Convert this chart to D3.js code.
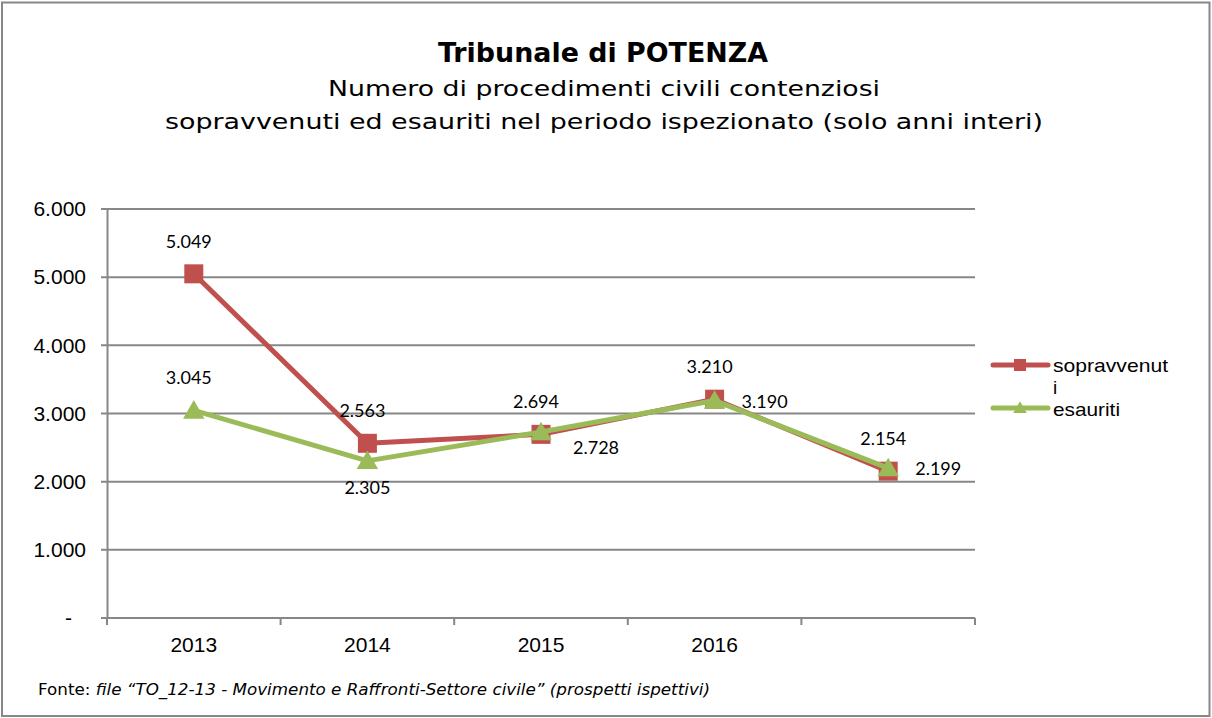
<!DOCTYPE html>
<html>
<head>
<meta charset="utf-8">
<script src="https://cdn.jsdelivr.net/npm/d3@7"></script>
<style>
  html, body { margin: 0; padding: 0; background: #fff; }
  svg { display: block; }
</style>
</head>
<body>
<svg id="chart" width="1212" height="718"></svg>
<script>
// ---- data ----
const categories = ["2013", "2014", "2015", "2016", ""];
const seriesNames = ["sopravvenuti", "esauriti"];
const sopravvenuti = [5049, 2563, 2694, 3210, 2154];
const esauriti = [3045, 2305, 2728, 3190, 2199];
const yTicks = [0, 1000, 2000, 3000, 4000, 5000, 6000];
const yTickLabels = ["-", "1.000", "2.000", "3.000", "4.000", "5.000", "6.000"];
const labelPlaceSop = ["above", "above", "above", "above", "above"];
const labelPlaceEsa = ["above", "below", "belowright", "right", "right"];
const titleText = "Tribunale di POTENZA";
const subtitleLines = ["Numero di procedimenti civili contenziosi",
                       "sopravvenuti ed esauriti nel periodo ispezionato (solo anni interi)"];
const sourceLabel = "Fonte: ";
const sourceText = "file \u201CTO_12-13 - Movimento e Raffronti-Settore civile\u201D (prospetti ispettivi)";

// ---- setup ----
const svg = d3.select("#chart");
const W = 1212, H = 718;
const red = "#C0504D", green = "#9BBB59", gridCol = "#878787";
const plot = { left: 107, right: 975, top: 209, bottom: 618 };

const itFmt = d3.formatLocale({ decimal: ",", thousands: ".", grouping: [3], currency: ["", "€"] }).format(",d");

// outer border
svg.append("rect").attr("x", 2).attr("y", 2.5).attr("width", W - 4.5).attr("height", H - 4.5)
  .attr("fill", "#fff").attr("stroke", gridCol).attr("stroke-width", 2);

// titles
svg.append("text").attr("x", 603).attr("y", 62).attr("text-anchor", "middle")
  .attr("font-family", "DejaVu Sans").attr("font-weight", "bold").attr("font-size", 26)
  .attr("textLength", 330).attr("lengthAdjust", "spacingAndGlyphs")
  .text(titleText);
const subW = [552, 878];
subtitleLines.forEach((t, i) => {
  svg.append("text").attr("x", 604).attr("y", 96 + i * 33).attr("text-anchor", "middle")
    .attr("font-family", "DejaVu Sans").attr("font-size", 22)
    .attr("textLength", subW[i]).attr("lengthAdjust", "spacingAndGlyphs")
    .text(t);
});

// scales
const x = d3.scaleBand().domain(categories.map((c, i) => i)).range([plot.left, plot.right]).padding(0);
const xc = i => x(i) + x.bandwidth() / 2;
const y = d3.scaleLinear().domain([0, 6000]).range([plot.bottom, plot.top]);

// gridlines
svg.append("g").selectAll("line").data(yTicks).join("line")
  .attr("x1", plot.left - 6).attr("x2", plot.right)
  .attr("y1", d => y(d)).attr("y2", d => y(d))
  .attr("stroke", gridCol).attr("stroke-width", 2);

// y axis
const yAxis = d3.axisLeft(y).tickValues(yTicks).tickSize(0).tickPadding(21)
  .tickFormat((d, i) => yTickLabels[i]);
const ya = svg.append("g").attr("transform", `translate(${plot.left},0)`).call(yAxis);
ya.select(".domain").attr("stroke", gridCol).attr("stroke-width", 2);
ya.selectAll("text").attr("font-family", "Liberation Sans").attr("font-size", 21).attr("fill", "#000")
  .attr("dx", (d, i) => yTickLabels[i] === "-" ? -14 : 0);

// x axis
const xa = svg.append("g").attr("transform", `translate(0,${plot.bottom})`);
xa.append("line").attr("x1", plot.left).attr("x2", plot.right).attr("stroke", gridCol).attr("stroke-width", 2);
const bounds = categories.map((c, i) => x(i)).concat([plot.right]);
xa.selectAll("line.tick").data(bounds).join("line")
  .attr("x1", d => d).attr("x2", d => d).attr("y1", 0).attr("y2", 7)
  .attr("stroke", gridCol).attr("stroke-width", 2);
xa.selectAll("text").data(categories).join("text")
  .attr("x", (d, i) => xc(i)).attr("y", 34).attr("text-anchor", "middle")
  .attr("font-family", "Liberation Sans").attr("font-size", 21).attr("fill", "#000")
  .text(d => d);

// series
const line = d3.line().x((d, i) => xc(i)).y(d => y(d));
function drawSeries(vals, color, marker) {
  svg.append("path").datum(vals).attr("d", line).attr("fill", "none")
    .attr("stroke", color).attr("stroke-width", 5).attr("stroke-linejoin", "round");
  if (marker === "square") {
    svg.selectAll(null).data(vals).join("rect")
      .attr("x", (d, i) => xc(i) - 9.5).attr("y", d => y(d) - 9.5)
      .attr("width", 19).attr("height", 19).attr("fill", color);
  } else {
    const tri = d3.symbol().type(d3.symbolTriangle).size(200);
    svg.selectAll(null).data(vals).join("path")
      .attr("d", tri).attr("transform", (d, i) => `translate(${xc(i)},${y(d) + 2})`)
      .attr("fill", color);
  }
}
drawSeries(sopravvenuti, red, "square");
drawSeries(esauriti, green, "triangle");

// data labels
function drawLabels(vals, places) {
  svg.selectAll(null).data(vals).join("text")
    .attr("font-family", "Lato").attr("font-size", 18).attr("fill", "#000")
    .each(function (d, i) {
      const p = places[i];
      const t = d3.select(this);
      const cx = xc(i), cy = y(d);
      if (p === "above") t.attr("x", cx - 5).attr("y", cy - 26).attr("text-anchor", "middle");
      else if (p === "below") t.attr("x", cx).attr("y", cy + 33).attr("text-anchor", "middle");
      else if (p === "belowright") t.attr("x", cx + 32).attr("y", cy + 22).attr("text-anchor", "start");
      else t.attr("x", cx + 27).attr("y", cy + 7).attr("text-anchor", "start");
    })
    .text(d => itFmt(d));
}
drawLabels(sopravvenuti, labelPlaceSop);
drawLabels(esauriti, labelPlaceEsa);

// legend
const leg = svg.append("g");
const legY = [365, 408];
const legColors = [red, green];
function legText(t, yy, len) {
  const el = leg.append("text").attr("x", 1053).attr("y", yy)
    .attr("font-family", "Liberation Sans").attr("font-size", 19).attr("fill", "#000").text(t);
  if (len) el.attr("textLength", len).attr("lengthAdjust", "spacingAndGlyphs");
}
seriesNames.forEach((name, i) => {
  leg.append("line").attr("x1", 993).attr("x2", 1048).attr("y1", legY[i]).attr("y2", legY[i])
    .attr("stroke", legColors[i]).attr("stroke-width", 5).attr("stroke-linecap", "round");
  if (i === 0) {
    leg.append("rect").attr("x", 1020 - 6).attr("y", legY[i] - 6).attr("width", 12).attr("height", 12).attr("fill", red);
  } else {
    leg.append("path").attr("d", d3.symbol().type(d3.symbolTriangle).size(80))
      .attr("transform", `translate(1020,${legY[i] + 1})`).attr("fill", green);
  }
});
// legend entry 1 wraps onto two lines, as in the source chart
legText(seriesNames[0].slice(0, 11), 372, 115);
legText(seriesNames[0].slice(11), 394, null);
legText(seriesNames[1], 416, 67);

// source
const src = svg.append("text").attr("x", 38).attr("y", 695)
  .attr("font-family", "DejaVu Sans").attr("font-size", 15).attr("fill", "#000")
  .attr("textLength", 672).attr("lengthAdjust", "spacingAndGlyphs");
src.append("tspan").text(sourceLabel);
src.append("tspan").attr("font-style", "italic").text(sourceText);
</script>
</body>
</html>
